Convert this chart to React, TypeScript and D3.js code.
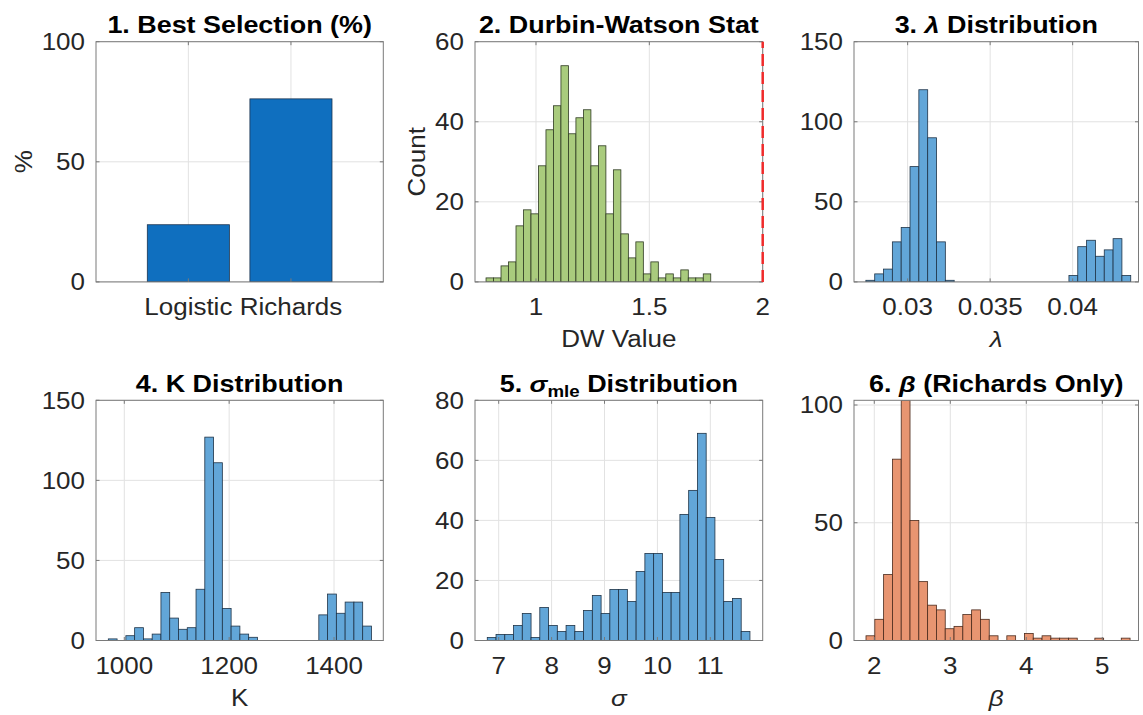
import React from 'react';
import * as d3 from 'd3';

// ---------- DATA ----------
const selectionCategories = ['Logistic', 'Richards'];
const selectionPercent = [23.8, 76.2];

const dwBinStart = 0.7797;
const dwBinWidth = 0.03304;
const dwCounts = [1, 1, 4, 5, 14, 18, 17, 29, 38, 44, 54, 37, 41, 43, 29, 34, 17, 28, 12, 6, 10, 2, 5, 1, 2, 1, 3, 1, 1, 2];
const dwThreshold = 2;
const dwXTicks = [1, 1.5, 2];
const dwYTicks = [0, 20, 40, 60];

const lambdaBinStart = 0.02747;
const lambdaBinWidth = 0.000535;
const lambdaCounts = [1, 5, 8, 25, 34, 72, 120, 90, 25, 1, 0, 0, 0, 0, 0, 0, 0, 0, 0, 0, 0, 0, 0, 4, 22, 26, 16, 20, 27, 4];
const lambdaXTicks = [0.03, 0.035, 0.04];
const lambdaYTicks = [0, 50, 100, 150];

const kBinStart = 969.5;
const kBinWidth = 16.73;
const kCounts = [1, 0, 3, 8, 1, 4, 30, 14, 7, 8, 32, 127, 111, 20, 9, 4, 2, 0, 0, 0, 0, 0, 0, 0, 16, 29, 17, 24, 24, 9];
const kXTicks = [1000, 1200, 1400];
const kYTicks = [0, 50, 100, 150];

const sigmaBinStart = 6.784;
const sigmaBinWidth = 0.1655;
const sigmaCounts = [1, 2, 2, 5, 9, 1, 11, 5, 3, 5, 3, 10, 15, 9, 17, 17, 13, 23, 29, 29, 16, 16, 42, 50, 69, 41, 27, 13, 14, 3];
const sigmaXTicks = [7, 8, 9, 10, 11];
const sigmaYTicks = [0, 20, 40, 60, 80];

const betaBinStart = 1.891;
const betaBinWidth = 0.1158;
const betaCounts = [2, 9, 28, 77, 102, 51, 25, 15, 13, 5, 6, 11, 13, 9, 2, 0, 2, 0, 3, 1, 2, 1, 1, 1, 0, 0, 1, 0, 0, 1];
const betaXTicks = [2, 3, 4, 5];
const betaYTicks = [0, 50, 100];

// ---------- STYLE ----------
const FONT = '"Liberation Sans", Arial, Helvetica, sans-serif';
const SX = 1.13;
const TSX = 1.17;
const AXIS = '#7a7a7a';
const GRID = '#e2e2e2';
const TXT = '#262626';

type Bar = { x0: number; x1: number; y: number };

function binsToBars(start: number, width: number, counts: number[]): Bar[] {
  return counts
    .map((c, i) => ({ x0: start + i * width, x1: start + (i + 1) * width, y: c }))
    .filter((b) => b.y > 0);
}

function Txt(props: any) {
  const { x, y, anchor = 'middle', size = 23, weight = 'normal', rot = 0, sx = SX, fill = TXT, children } = props;
  return (
    <text
      transform={`translate(${x},${y}) rotate(${rot}) scale(${sx},1)`}
      textAnchor={anchor}
      fontSize={size}
      fontWeight={weight}
      fill={fill}
      fontFamily={FONT}
    >
      {children}
    </text>
  );
}

type PanelSpec = {
  id: string;
  left: number;
  top: number;
  width: number;
  height: number;
  xDomain: [number, number];
  yDomain: [number, number];
  xTicks: number[];
  xTickLabels?: string[];
  yTicks: number[];
  bars: Bar[];
  fill: string;
  stroke: string;
  title: React.ReactNode;
  xLabel?: React.ReactNode;
  yLabel?: string;
  yLabelOffset?: number;
  vline?: number;
};

function Panel({ p }: { p: PanelSpec }) {
  const x = d3.scaleLinear().domain(p.xDomain).range([p.left, p.left + p.width]);
  const y = d3.scaleLinear().domain(p.yDomain).range([p.top + p.height, p.top]);
  const bottom = p.top + p.height;
  const right = p.left + p.width;
  const tl = 3.5;
  return (
    <g>
      <defs>
        <clipPath id={`clip-${p.id}`}>
          <rect x={p.left} y={p.top} width={p.width} height={p.height} />
        </clipPath>
      </defs>
      <rect x={p.left} y={p.top} width={p.width} height={p.height} fill="#fff" />
      {/* grid */}
      {p.xTicks.map((t) => (
        <line key={`gx${t}`} x1={x(t)} x2={x(t)} y1={p.top} y2={bottom} stroke={GRID} strokeWidth={1} />
      ))}
      {p.yTicks.map((t) => (
        <line key={`gy${t}`} x1={p.left} x2={right} y1={y(t)} y2={y(t)} stroke={GRID} strokeWidth={1} />
      ))}
      {/* bars */}
      <g clipPath={`url(#clip-${p.id})`}>
        {p.bars.map((b, i) => (
          <rect
            key={i}
            x={x(b.x0)}
            y={y(b.y)}
            width={x(b.x1) - x(b.x0)}
            height={y(0) - y(b.y)}
            fill={p.fill}
            stroke={p.stroke}
            strokeWidth={0.8}
          />
        ))}
      </g>
      {/* box */}
      <rect x={p.left} y={p.top} width={p.width} height={p.height} fill="none" stroke={AXIS} strokeWidth={1} />
      {/* tick marks */}
      {p.xTicks.map((t) => (
        <g key={`tx${t}`}>
          <line x1={x(t)} x2={x(t)} y1={bottom} y2={bottom - tl} stroke={AXIS} />
          <line x1={x(t)} x2={x(t)} y1={p.top} y2={p.top + tl} stroke={AXIS} />
        </g>
      ))}
      {p.yTicks.map((t) => (
        <g key={`ty${t}`}>
          <line x1={p.left} x2={p.left + tl} y1={y(t)} y2={y(t)} stroke={AXIS} />
          <line x1={right} x2={right - tl} y1={y(t)} y2={y(t)} stroke={AXIS} />
        </g>
      ))}
      {p.vline !== undefined && (
        <line
          x1={x(p.vline)}
          x2={x(p.vline)}
          y1={y(p.yDomain[0])}
          y2={y(p.yDomain[1])}
          stroke="#f02a2a"
          strokeWidth={2.5}
          strokeDasharray="12,6"
        />
      )}
      {/* tick labels */}
      {p.xTicks.map((t, i) => (
        <Txt key={`lx${t}`} x={x(t)} y={bottom + 33.3}>
          {p.xTickLabels ? p.xTickLabels[i] : String(t)}
        </Txt>
      ))}
      {p.yTicks.map((t) => (
        <Txt key={`ly${t}`} x={p.left - 11} y={y(t) + 8.2} anchor="end">
          {String(t)}
        </Txt>
      ))}
      {/* title */}
      <Txt x={p.left + p.width / 2} y={p.top - 8.5} weight="bold" sx={TSX} fill="#000">
        {p.title}
      </Txt>
      {p.xLabel && (
        <Txt x={p.left + p.width / 2} y={bottom + 65}>
          {p.xLabel}
        </Txt>
      )}
      {p.yLabel && (
        <Txt x={p.left - (p.yLabelOffset ?? 50)} y={p.top + p.height / 2} rot={-90}>
          {p.yLabel}
        </Txt>
      )}
    </g>
  );
}

export default function App() {
  const rowTop = [41.7, 400.3];
  const H = 240.2;
  const colLeft = [96, 475, 854];
  const colW = [287.3, 287.7, 284.5];

  const selectionBars: Bar[] = selectionPercent.map((v, i) => ({ x0: i + 1 - 0.4, x1: i + 1 + 0.4, y: v }));

  const panels: PanelSpec[] = [
    {
      id: 'p1',
      left: colLeft[0], top: rowTop[0], width: colW[0], height: H,
      xDomain: [0.1, 2.9], yDomain: [0, 100],
      xTicks: selectionCategories.map((_, i) => i + 1),
      xTickLabels: selectionCategories,
      yTicks: [0, 50, 100],
      bars: selectionBars,
      fill: '#0f6fbf', stroke: '#1d3550',
      title: '1. Best Selection (%)',
      yLabel: '%', yLabelOffset: 64,
    },
    {
      id: 'p2',
      left: colLeft[1], top: rowTop[0], width: colW[1], height: H,
      xDomain: [0.731, 2.0], yDomain: [0, 60],
      xTicks: dwXTicks, yTicks: dwYTicks,
      bars: binsToBars(dwBinStart, dwBinWidth, dwCounts),
      fill: '#a9cb7d', stroke: '#2e3a22',
      title: '2. Durbin-Watson Stat',
      xLabel: 'DW Value',
      yLabel: 'Count', yLabelOffset: 50,
      vline: dwThreshold,
    },
    {
      id: 'p3',
      left: colLeft[2], top: rowTop[0], width: colW[2], height: H,
      xDomain: [0.02675, 0.04399], yDomain: [0, 150],
      xTicks: lambdaXTicks, yTicks: lambdaYTicks,
      bars: binsToBars(lambdaBinStart, lambdaBinWidth, lambdaCounts),
      fill: '#62a6d8', stroke: '#1f3347',
      title: (<>3. <tspan fontStyle="italic">λ</tspan> Distribution</>),
      xLabel: <tspan fontStyle="italic">λ</tspan>,
    },
    {
      id: 'p4',
      left: colLeft[0], top: rowTop[1], width: colW[0], height: H,
      xDomain: [946, 1494], yDomain: [0, 150],
      xTicks: kXTicks, yTicks: kYTicks,
      bars: binsToBars(kBinStart, kBinWidth, kCounts),
      fill: '#62a6d8', stroke: '#1f3347',
      title: '4. K Distribution',
      xLabel: 'K',
    },
    {
      id: 'p5',
      left: colLeft[1], top: rowTop[1], width: colW[1], height: H,
      xDomain: [6.552, 11.99], yDomain: [0, 80],
      xTicks: sigmaXTicks, yTicks: sigmaYTicks,
      bars: binsToBars(sigmaBinStart, sigmaBinWidth, sigmaCounts),
      fill: '#62a6d8', stroke: '#1f3347',
      title: (
        <>
          5. <tspan fontStyle="italic">σ</tspan>
          <tspan fontSize={16} dy={5}>mle</tspan>
          <tspan dy={-5}> Distribution</tspan>
        </>
      ),
      xLabel: <tspan fontStyle="italic">σ</tspan>,
    },
    {
      id: 'p6',
      left: colLeft[2], top: rowTop[1], width: colW[2], height: H,
      xDomain: [1.733, 5.476], yDomain: [0, 102],
      xTicks: betaXTicks, yTicks: betaYTicks,
      bars: binsToBars(betaBinStart, betaBinWidth, betaCounts),
      fill: '#e89571', stroke: '#4a2a1c',
      title: (<>6. <tspan fontStyle="italic">β</tspan> (Richards Only)</>),
      xLabel: <tspan fontStyle="italic">β</tspan>,
    },
  ];

  return (
    <svg
      width={1143}
      height={715}
      style={{ position: 'fixed', left: 0, top: 0, display: 'block', background: '#fff' }}
    >
      <rect width={1143} height={715} fill="#fff" />
      {panels.map((p) => (
        <Panel key={p.id} p={p} />
      ))}
    </svg>
  );
}
